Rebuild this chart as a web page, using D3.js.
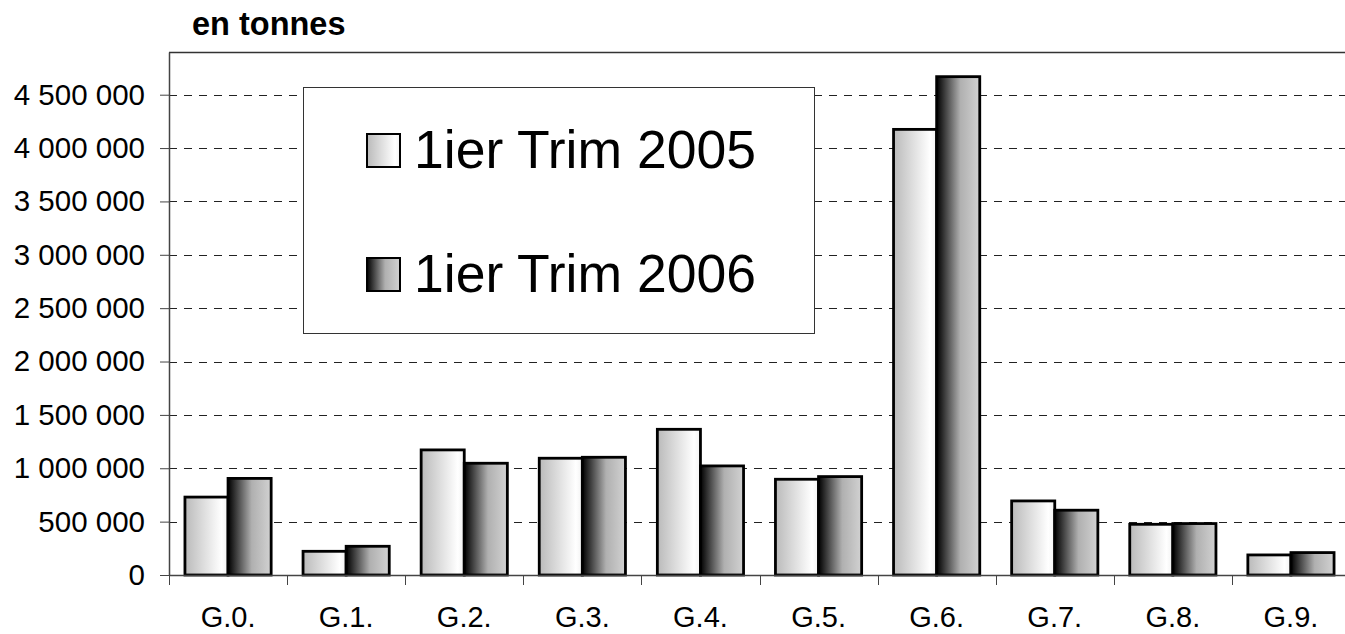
<!DOCTYPE html>
<meta charset="utf-8">
<script src="https://d3js.org/d3.v7.min.js"></script>
<style>
  body { margin: 0; background: #fff; }
  text { font-family: "Liberation Sans", Arial, sans-serif; }
</style>
<div id="chart"></div>
<script>

// data (tonnes)
var categories = ["G.0.", "G.1.", "G.2.", "G.3.", "G.4.", "G.5.", "G.6.", "G.7.", "G.8.", "G.9."];
var seriesNames = ["1ier Trim 2005", "1ier Trim 2006"];
var trim2005 = [730000, 222000, 1172000, 1094000, 1365000, 897000, 4175000, 694000, 475000, 188000];
var trim2006 = [905000, 269000, 1047000, 1103000, 1022000, 922000, 4669000, 607000, 482000, 210000];
var yTicks = [0, 500000, 1000000, 1500000, 2000000, 2500000, 3000000, 3500000, 4000000, 4500000];

var width = 1345, height = 634;
var margin = {top: 52, left: 169, bottom: 59};
var plotRight = 1350;

var svg = d3.select("#chart")
  .append("svg")
    .attr("width", width)
    .attr("height", height);

// gradients like the old excel fills
var defs = svg.append("defs");
var g1 = defs.append("linearGradient").attr("id", "grad2005");
g1.append("stop").attr("offset", "0%").attr("stop-color", "#bababa");
g1.append("stop").attr("offset", "85%").attr("stop-color", "#ffffff");
g1.append("stop").attr("offset", "100%").attr("stop-color", "#f2f2f2");
var g2 = defs.append("linearGradient").attr("id", "grad2006");
g2.append("stop").attr("offset", "0%").attr("stop-color", "#000000");
g2.append("stop").attr("offset", "55%").attr("stop-color", "#b0b0b0");
g2.append("stop").attr("offset", "100%").attr("stop-color", "#d2d2d2");
var fills = ["url(#grad2005)", "url(#grad2006)"];

var x = d3.scaleBand()
  .domain(categories)
  .range([margin.left, plotRight])
  .paddingInner(0)
  .paddingOuter(0);

var x1 = d3.scaleBand()
  .domain([0, 1])
  .range([0, x.bandwidth()])
  .paddingInner(0)
  .paddingOuter(0.37);

var y = d3.scaleLinear()
  .domain([0, 4900000])
  .range([height - margin.bottom, margin.top]);

var fmt = function(d) { return d3.format(",")(d).replace(/,/g, " "); };

// gridlines
svg.append("g")
  .selectAll("line")
  .data(yTicks.filter(function(d) { return d > 0; }))
  .enter()
  .append("line")
    .attr("x1", margin.left)
    .attr("x2", plotRight)
    .attr("y1", function(d) { return Math.round(y(d)) + 0.5; })
    .attr("y2", function(d) { return Math.round(y(d)) + 0.5; })
    .attr("stroke", "#222")
    .attr("stroke-dasharray", "8,7");

// top frame line
svg.append("line")
  .attr("x1", margin.left).attr("x2", plotRight)
  .attr("y1", margin.top + 0.5).attr("y2", margin.top + 0.5)
  .attr("stroke", "#333").attr("stroke-width", 1.5);

// y axis
var yAxis = svg.append("g")
  .attr("transform", "translate(" + margin.left + ",0)")
  .call(d3.axisLeft(y).tickValues(yTicks).tickFormat(fmt).tickSize(9).tickSizeOuter(0).tickPadding(15));
yAxis.select(".domain").attr("stroke", "#444").attr("stroke-width", 1.5);
yAxis.selectAll(".tick line").attr("stroke", "#444");
yAxis.selectAll("text")
  .style("font-size", "29.5px")
  .attr("fill", "#000");

// bars
var groups = svg.append("g")
  .selectAll("g")
  .data(categories)
  .enter()
  .append("g")
    .attr("transform", function(d) { return "translate(" + x(d) + ",0)"; });

groups.selectAll("rect")
  .data(function(d, i) { return [trim2005[i], trim2006[i]]; })
  .enter()
  .append("rect")
    .attr("x", function(d, j) { return x1(j); })
    .attr("y", function(d) { return y(d); })
    .attr("width", x1.bandwidth())
    .attr("height", function(d) { return y(0) - y(d); })
    .attr("fill", function(d, j) { return fills[j]; })
    .attr("stroke", "#000")
    .attr("stroke-width", 2.8);

// x axis
var xAxis = svg.append("g")
  .attr("transform", "translate(0," + y(0) + ")")
  .call(d3.axisBottom(x).tickSize(0).tickPadding(31));
xAxis.select(".domain").attr("stroke", "#444").attr("stroke-width", 1.5);
xAxis.selectAll("text")
  .style("font-size", "29px")
  .attr("fill", "#000");

// category separator ticks
svg.append("g")
  .selectAll("line")
  .data(categories)
  .enter()
  .append("line")
    .attr("x1", function(d) { return Math.round(x(d)) + 0.5; })
    .attr("x2", function(d) { return Math.round(x(d)) + 0.5; })
    .attr("y1", y(0))
    .attr("y2", y(0) + 10)
    .attr("stroke", "#444");

// title
svg.append("text")
  .attr("x", 192)
  .attr("y", 35)
  .style("font-size", "32.5px")
  .style("font-weight", "bold")
  .text("en tonnes");

// legend
var legend = svg.append("g").attr("transform", "translate(303,87)");
legend.append("rect")
  .attr("x", 0.5).attr("y", 0.5)
  .attr("width", 511).attr("height", 246)
  .attr("fill", "#fff")
  .attr("stroke", "#333")
  .attr("stroke-width", 1);

var items = legend.selectAll(".item")
  .data(seriesNames)
  .enter()
  .append("g")
    .attr("transform", function(d, i) { return "translate(64," + (47 + i * 124) + ")"; });
items.append("rect")
  .attr("width", 33).attr("height", 33)
  .attr("fill", function(d, i) { return fills[i]; })
  .attr("stroke", "#000")
  .attr("stroke-width", 2);
items.append("text")
  .attr("x", 47)
  .attr("y", 34)
  .style("font-size", "53.5px")
  .text(function(d) { return d; });

</script>
